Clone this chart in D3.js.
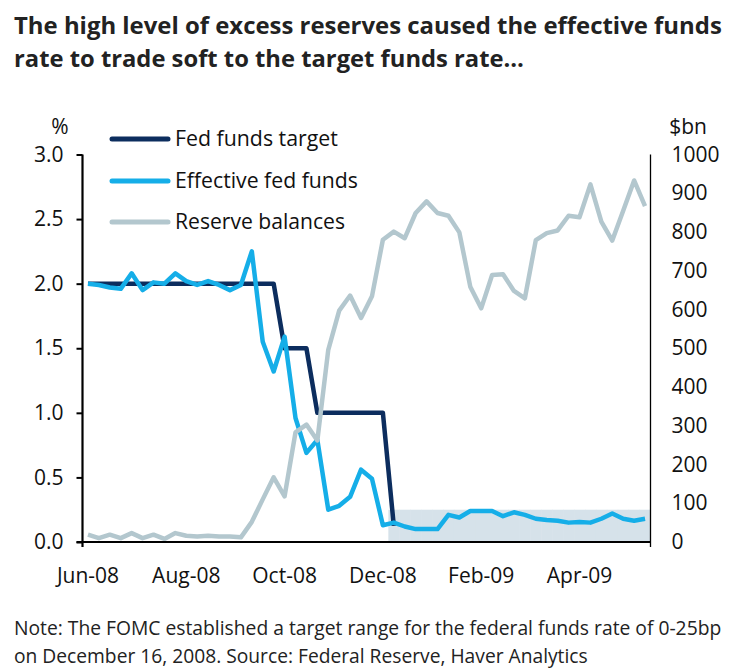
<!DOCTYPE html>
<html><head><meta charset="utf-8">
<script src="https://cdn.jsdelivr.net/npm/d3@7"></script>
<style>
body{margin:0;background:#fff}
svg{display:block}
text{font-family:"Open Sans",sans-serif;fill:#111}
</style>
</head><body>
<svg id="c" width="736" height="668"></svg>
<script>
// ---------- data ----------
const weeks = [
 "2008-06-04","2008-06-11","2008-06-18","2008-06-25",
 "2008-07-02","2008-07-09","2008-07-16","2008-07-23","2008-07-30",
 "2008-08-06","2008-08-13","2008-08-20","2008-08-27",
 "2008-09-03","2008-09-10","2008-09-17","2008-09-24",
 "2008-10-01","2008-10-08","2008-10-15","2008-10-22","2008-10-29",
 "2008-11-05","2008-11-12","2008-11-19","2008-11-26",
 "2008-12-03","2008-12-10","2008-12-17","2008-12-24","2008-12-31",
 "2009-01-07","2009-01-14","2009-01-21","2009-01-28",
 "2009-02-04","2009-02-11","2009-02-18","2009-02-25",
 "2009-03-04","2009-03-11","2009-03-18","2009-03-25",
 "2009-04-01","2009-04-08","2009-04-15","2009-04-22","2009-04-29",
 "2009-05-06","2009-05-13","2009-05-20","2009-05-27"];
const fedFundsTarget = [
 2,2,2,2,2,2,2,2,2,2,2,2,2,2,2,2,2,2,
 1.5,1.5,1.5,
 1,1,1,1,1,1,1,
 0.125,
 null,null,null,null,null,null,null,null,null,null,null,null,
 null,null,null,null,null,null,null,null,null,null,null];
const effectiveFedFunds = [
 2.00,1.99,1.97,1.96,2.08,1.95,2.01,2.00,2.08,2.02,1.99,2.02,1.99,1.95,1.99,2.25,
 1.55,1.32,1.59,0.96,0.69,0.79,0.25,0.28,0.35,0.56,0.49,0.13,0.15,0.12,0.10,0.10,
 0.10,0.21,0.19,0.24,0.24,0.24,0.20,0.23,0.21,0.18,0.17,0.165,0.15,0.155,0.15,0.18,
 0.22,0.18,0.165,0.18];
const reserveBalances = [
 19,10,19,10,23,10,19,8,23,16,14,16,14,14,12,52,
 110,167,118,283,303,262,496,597,636,578,634,780,801,784,849,879,
 849,842,799,659,603,689,691,648,629,779,797,804,842,838,923,827,
 778,855,933,867];
const targetRangeUpper = [
 null,null,null,null,null,null,null,null,null,null,null,null,null,null,
 null,null,null,null,null,null,null,null,null,null,null,null,null,null,
 0.25,0.25,0.25,0.25,0.25,0.25,0.25,0.25,0.25,0.25,0.25,0.25,
 0.25,0.25,0.25,0.25,0.25,0.25,0.25,0.25,0.25,0.25,0.25,0.25];
const leftTicks = [0,0.5,1,1.5,2,2.5,3];
const rightTicks = [0,100,200,300,400,500,600,700,800,900,1000];
const xTickWeeks = ["2008-06-04","2008-08-06","2008-10-08","2008-12-10","2009-02-11","2009-04-15"];
const xTickLabels = ["Jun-08","Aug-08","Oct-08","Dec-08","Feb-09","Apr-09"];
const seriesNames = ["Fed funds target","Effective fed funds","Reserve balances"];
const titleLines = ["The high level of excess reserves caused the effective funds",
                    "rate to trade soft to the target funds rate\u2026"];
const noteLines = ["Note: The FOMC established a target range for the federal funds rate of 0-25bp",
                   "on December 16, 2008. Source: Federal Reserve, Haver Analytics"];

// ---------- layout ----------
const C = {navy:"#0c2d5e", blue:"#15aee8", gray:"#b3c7ce", shade:"#d6e2ea"};
const svg = d3.select("#c");
const L = 82.5, R = 650.5, T = 154.5, B = 542;

const x = d3.scaleBand().domain(weeks).range([L, R]).padding(0);
const xc = d => x(d) + x.bandwidth()/2;
const yL = d3.scaleLinear().domain([0,3]).range([B, T]);
const yR = d3.scaleLinear().domain([0,1000]).range([B, T]);

function fit(sel, w){
  const l = sel.node().getComputedTextLength();
  sel.attr("font-size", parseFloat(sel.attr("font-size")) * w / l);
}

// title
const tw = [708, 510];
titleLines.forEach((t,i)=>{
  const s = svg.append("text").attr("x",14).attr("y",[34,67][i])
   .attr("font-size",24).attr("font-weight","bold").style("fill","#222").text(t);
  fit(s, tw[i]);
});

// shading (target range)
svg.append("g").selectAll("rect")
 .data(weeks.map((w,i)=>({w, v:targetRangeUpper[i]})).filter(d=>d.v!=null))
 .join("rect")
 .attr("x", d=>x(d.w)).attr("width", x.bandwidth()+0.5)
 .attr("y", d=>yL(d.v)).attr("height", d=>B - yL(d.v))
 .attr("fill", C.shade);

// lines
const mk = (ys, arr) => d3.line()
  .defined((d,i)=>arr[i]!=null)
  .x(d=>xc(d)).y((d,i)=>ys(arr[i]));

svg.append("path").attr("d", mk(yL, fedFundsTarget)(weeks))
 .attr("fill","none").attr("stroke",C.navy).attr("stroke-width",4.5)
 .attr("stroke-linejoin","round");
svg.append("path").attr("d", mk(yL, effectiveFedFunds)(weeks))
 .attr("fill","none").attr("stroke",C.blue).attr("stroke-width",4.5)
 .attr("stroke-linejoin","round");
svg.append("path").attr("d", mk(yR, reserveBalances)(weeks))
 .attr("fill","none").attr("stroke",C.gray).attr("stroke-width",4.5)
 .attr("stroke-linejoin","round");

// axes
const gl = svg.append("g").attr("transform",`translate(${L},0)`)
 .call(d3.axisLeft(yL).tickValues(leftTicks).tickFormat(d3.format(".1f")).tickSize(6).tickPadding(13));
gl.select(".domain").attr("d",`M0,${T}V${B+5}`).attr("stroke","#000").attr("stroke-width",2.2);
gl.selectAll(".tick line").attr("stroke","#000").attr("stroke-width",2);
gl.selectAll("text").attr("font-size",21).attr("font-family","'Open Sans',sans-serif").style("fill","#111");

const gr = svg.append("g").attr("transform",`translate(${R},0)`)
 .call(d3.axisRight(yR).tickValues(rightTicks).tickFormat(d3.format("d")).tickSize(0).tickPadding(21));
gr.select(".domain").attr("d",`M0,${T}V${B+5}`).attr("stroke","#000").attr("stroke-width",1.3);
gr.selectAll("text").attr("font-size",21).attr("font-family","'Open Sans',sans-serif").style("fill","#111");

const gx = svg.append("g").attr("transform",`translate(0,${B})`)
 .call(d3.axisBottom(x).tickValues(xTickWeeks).tickFormat((d,i)=>xTickLabels[i]).tickSize(0).tickPadding(26));
gx.select(".domain").attr("d",`M${L-6},0H${R}`).attr("stroke","#000").attr("stroke-width",2.2);
gx.selectAll("text").attr("font-size",21).attr("font-family","'Open Sans',sans-serif").style("fill","#111");

// unit labels
svg.append("text").attr("x",60).attr("y",134).attr("text-anchor","middle").attr("font-size",21).text("%");
svg.append("text").attr("x",688).attr("y",134).attr("text-anchor","middle").attr("font-size",21).text("$bn");

// legend
const lg = svg.append("g");
const lc = [C.navy, C.blue, C.gray];
const ly = [139, 181, 222];
const lw = [163, 183, 170];
seriesNames.forEach((n,i)=>{
  lg.append("line").attr("x1",112).attr("x2",168).attr("y1",ly[i]).attr("y2",ly[i])
   .attr("stroke",lc[i]).attr("stroke-width",5).attr("stroke-linecap","round");
  const s = lg.append("text").attr("x",175).attr("y",ly[i]+7).attr("font-size",21).text(n);
  fit(s, lw[i]);
});

// note
const nw = [708, 574];
noteLines.forEach((t,i)=>{
  const s = svg.append("text").attr("x",14).attr("y",[635,663][i]).attr("font-size",19)
   .style("fill","#222").text(t);
  fit(s, nw[i]);
});
</script>
</body></html>
